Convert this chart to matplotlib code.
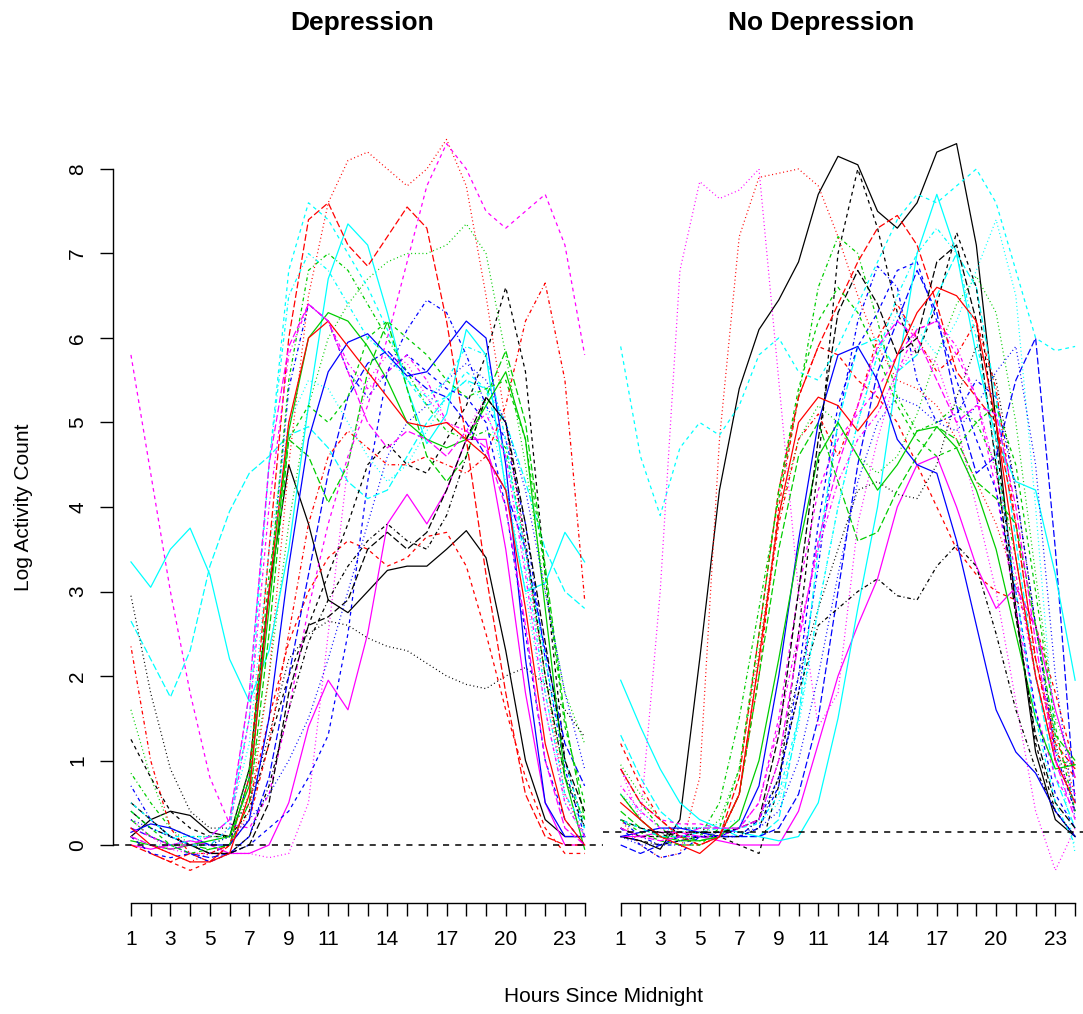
import matplotlib
matplotlib.use('Agg')
import matplotlib.pyplot as plt

plt.rcParams['font.family'] = ['Liberation Sans', 'DejaVu Sans']

## hours on the x axis, only some get a printed label (like R drops overlapping ones)
hours = list(range(1, 25))
shown_labels = [1, 3, 5, 7, 9, 11, 14, 17, 20, 23]
y_ticks = [0, 1, 2, 3, 4, 5, 6, 7, 8]

## smoothed log activity per subject, hours 1..24
## order follows matplot: colour cycles over 6, line type over 5
dep_curves = [
    [0.1, 0.3, 0.4, 0.35, 0.15, 0.1, 0.9, 3.0, 4.5, 3.8, 2.9, 2.75, 3.0, 3.25, 3.3, 3.3, 3.5, 3.72, 3.4, 2.3, 1.0, 0.3, 0.1, 0.1],
    [0.1, -0.1, -0.2, -0.3, -0.2, 0.0, 0.5, 1.5, 2.4, 3.0, 3.4, 3.6, 3.5, 3.3, 3.4, 3.65, 3.7, 3.3, 2.5, 1.6, 0.8, 0.2, -0.1, -0.1],
    [1.6, 0.8, 0.2, 0.0, 0.0, 0.1, 0.6, 2.0, 3.8, 5.2, 6.0, 6.4, 6.7, 6.9, 7.0, 7.0, 7.1, 7.35, 7.0, 5.8, 4.5, 3.0, 1.8, 1.2],
    [0.7, 0.3, 0.1, 0.0, -0.1, 0.0, 0.8, 3.0, 5.4, 6.4, 6.2, 5.6, 5.3, 5.6, 6.1, 6.45, 6.3, 5.8, 5.2, 4.8, 3.8, 2.2, 0.9, 0.1],
    [2.65, 2.2, 1.75, 2.3, 3.3, 3.95, 4.4, 4.6, 4.85, 4.95, 4.7, 4.3, 4.1, 4.2, 4.6, 5.0, 5.3, 5.5, 5.4, 5.0, 4.3, 3.5, 3.0, 2.8],
    [0.0, -0.05, 0.0, 0.05, 0.0, -0.1, -0.1, 0.0, 0.5, 1.4, 1.95, 1.6, 2.5, 3.8, 4.15, 3.8, 4.2, 4.8, 4.8, 3.5, 1.8, 0.5, 0.0, 0.0],
    [1.25, 0.8, 0.4, 0.2, 0.1, 0.1, 0.4, 1.2, 2.0, 2.6, 3.2, 3.8, 4.5, 4.75, 4.5, 4.4, 4.8, 5.2, 5.8, 6.6, 5.6, 3.2, 1.0, 0.2],
    [0.1, 0.0, -0.1, -0.2, -0.1, 0.0, 0.4, 2.0, 4.5, 6.5, 7.6, 8.1, 8.2, 8.0, 7.8, 8.0, 8.35, 7.8, 6.5, 5.0, 3.5, 2.0, 0.6, 0.1],
    [0.85, 0.5, 0.2, 0.1, 0.1, 0.1, 0.9, 3.0, 5.5, 6.8, 7.0, 6.8, 6.4, 6.0, 5.6, 5.2, 4.9, 4.8, 4.9, 4.7, 3.5, 2.0, 0.8, 0.3],
    [0.2, 0.1, 0.0, -0.1, -0.15, -0.1, 0.1, 0.8, 2.0, 3.2, 4.4, 5.3, 5.7, 5.85, 5.6, 5.4, 5.3, 5.0, 4.6, 4.2, 3.5, 2.3, 1.2, 0.7],
    [3.35, 3.05, 3.5, 3.75, 3.2, 2.2, 1.7, 2.3, 3.5, 5.2, 6.7, 7.35, 7.1, 6.3, 5.4, 4.75, 5.1, 6.1, 5.8, 4.2, 3.0, 3.1, 3.7, 3.35],
    [5.8, 4.4, 3.0, 1.8, 0.8, 0.25, 0.2, 0.6, 1.6, 2.8, 3.8, 4.6, 5.2, 6.0, 6.9, 7.8, 8.3, 8.0, 7.5, 7.3, 7.5, 7.7, 7.1, 5.8],
    [2.95, 1.8, 0.9, 0.4, 0.2, 0.2, 0.5, 1.3, 2.2, 2.5, 2.65, 2.6, 2.45, 2.35, 2.3, 2.15, 2.0, 1.9, 1.85, 2.0, 2.1, 1.9, 1.6, 1.28],
    [2.35, 1.0, 0.2, -0.1, -0.1, 0.0, 0.3, 1.2, 2.5, 3.8, 4.6, 4.9, 4.7, 4.5, 4.5, 4.6, 4.5, 4.4, 4.6, 5.2, 6.2, 6.65, 5.5, 2.9],
    [0.3, 0.1, 0.0, 0.0, -0.05, 0.0, 0.5, 2.5, 4.8, 4.6, 4.05, 4.5, 5.6, 6.2, 5.4, 4.6, 4.3, 4.6, 5.3, 5.85, 5.0, 3.3, 1.5, 0.3],
    [0.15, 0.25, 0.2, 0.1, 0.0, 0.0, 0.3, 1.5, 3.3, 4.8, 5.6, 5.95, 6.05, 5.8, 5.55, 5.6, 5.9, 6.2, 6.0, 4.5, 2.2, 0.5, 0.1, 0.1],
    [0.4, 0.2, 0.1, 0.1, 0.1, 0.3, 1.5, 4.5, 6.8, 7.6, 7.4, 7.0, 6.6, 6.1, 5.5, 5.2, 5.3, 5.6, 5.4, 4.6, 3.5, 2.2, 1.0, 0.2],
    [0.3, 0.1, -0.05, -0.1, -0.1, -0.1, -0.1, -0.15, -0.1, 0.5, 2.5, 4.5, 5.5, 5.8, 5.7, 5.3, 5.0, 4.9, 5.3, 5.0, 3.5, 1.8, 0.6, 0.1],
    [0.4, 0.2, 0.1, 0.0, -0.1, -0.1, 0.1, 0.7, 1.6, 2.4, 2.9, 3.3, 3.6, 3.8, 3.6, 3.5, 3.9, 4.6, 5.3, 5.0, 3.6, 2.0, 0.8, 0.2],
    [0.0, -0.1, -0.2, -0.1, -0.2, 0.0, 0.8, 3.5, 6.0, 7.4, 7.6, 7.1, 6.85, 7.2, 7.55, 7.3, 6.2, 4.8, 3.2, 1.8, 0.6, 0.1, 0.0, 0.0],
    [0.05, 0.0, -0.05, 0.0, 0.05, 0.1, 0.7, 2.8, 4.9, 6.0, 6.3, 6.2, 5.9, 5.5, 5.0, 4.8, 4.7, 4.8, 5.2, 5.6, 4.8, 2.8, 0.8, -0.05],
    [0.1, -0.1, -0.15, -0.1, -0.2, -0.1, 0.0, 0.2, 0.4, 0.8, 1.3, 2.5, 4.3, 5.6, 5.8, 5.6, 5.4, 5.3, 5.0, 4.0, 2.5, 1.0, 0.3, 0.0],
    [0.1, 0.0, 0.0, 0.05, 0.1, 0.3, 1.2, 3.5, 5.0, 5.5, 5.4, 5.0, 4.6, 4.3, 4.5, 4.9, 5.3, 5.5, 5.2, 4.3, 3.0, 1.6, 0.5, 0.1],
    [0.2, 0.1, 0.0, 0.0, 0.0, 0.2, 1.5, 4.0, 5.8, 6.4, 6.2, 5.7, 5.4, 5.6, 5.8, 5.5, 5.0, 4.9, 5.1, 4.6, 3.2, 1.6, 0.5, 0.1],
    [0.5, 0.3, 0.1, 0.0, -0.1, -0.1, 0.0, 0.5, 1.8, 2.6, 2.7, 2.9, 3.5, 3.7, 3.5, 3.7, 4.2, 4.8, 5.3, 5.0, 3.8, 2.4, 1.0, 0.4],
    [0.2, 0.0, -0.1, -0.2, -0.2, -0.1, 0.6, 3.0, 5.0, 6.0, 6.2, 5.9, 5.6, 5.3, 5.0, 4.95, 5.0, 4.8, 4.6, 4.2, 2.8, 1.2, 0.3, 0.0],
    [0.4, 0.2, 0.0, -0.1, -0.05, 0.0, 0.8, 3.2, 4.8, 5.2, 5.0, 5.3, 6.0, 6.2, 6.0, 5.8, 5.5, 5.3, 5.4, 5.5, 4.8, 3.2, 1.4, 0.5],
    [0.3, 0.2, 0.1, 0.0, 0.0, 0.1, 0.3, 0.6, 1.0, 1.5, 2.2, 3.0, 3.8, 4.6, 5.0, 5.2, 5.5, 5.7, 5.5, 5.0, 4.2, 3.0, 1.8, 0.9],
    [0.5, 0.3, 0.1, 0.0, 0.0, 0.2, 1.8, 4.5, 6.5, 7.0, 6.8, 6.4, 6.0, 5.8, 5.5, 5.3, 5.5, 5.9, 5.8, 4.8, 3.3, 1.8, 0.6, 0.2],
    [0.1, 0.0, -0.05, 0.0, 0.1, 0.3, 1.8, 4.5, 5.9, 6.4, 6.2, 5.6, 5.0, 4.7, 4.9, 4.8, 4.6, 4.9, 4.7, 4.0, 2.6, 1.0, 0.2, 0.0],
]

nodep_curves = [
    [0.1, 0.05, -0.05, 0.3, 2.2, 4.2, 5.4, 6.1, 6.45, 6.9, 7.7, 8.15, 8.05, 7.5, 7.3, 7.6, 8.2, 8.3, 7.1, 5.0, 2.8, 1.1, 0.3, 0.1],
    [1.2, 0.7, 0.3, 0.1, 0.0, 0.1, 0.6, 2.0, 4.0, 5.3, 5.9, 5.8, 5.5, 5.3, 5.0, 4.5, 4.0, 3.5, 3.2, 3.0, 2.9, 2.6, 1.8, 0.9],
    [0.95, 0.6, 0.3, 0.1, 0.1, 0.3, 0.9, 2.3, 3.9, 4.8, 5.2, 5.0, 4.6, 4.4, 4.6, 5.1, 5.8, 6.4, 6.73, 6.3, 5.0, 3.2, 1.5, 0.9],
    [0.3, 0.1, 0.0, 0.0, 0.1, 0.1, 0.1, 0.3, 0.8, 1.8, 3.3, 5.0, 6.2, 6.85, 6.6, 5.5, 5.0, 5.1, 5.5, 5.3, 4.2, 2.6, 1.1, 0.4],
    [1.3, 0.8, 0.4, 0.2, 0.2, 0.2, 0.1, 0.1, 0.3, 1.5, 3.5, 5.0, 5.9, 6.0, 5.6, 5.8, 6.5, 7.0, 6.6, 5.3, 3.6, 2.0, 0.8, 0.2],
    [0.1, 0.1, 0.15, 0.15, 0.1, 0.05, 0.0, 0.0, 0.0, 0.4, 1.2, 2.0, 2.6, 3.15, 4.0, 4.5, 4.6, 4.0, 3.3, 2.8, 3.05, 2.6, 1.6, 0.8],
    [0.2, 0.1, 0.1, 0.15, 0.15, 0.1, 0.0, -0.1, 0.7, 2.5, 4.5, 7.0, 8.0, 7.3, 6.3, 5.8, 6.4, 7.25, 6.6, 4.8, 2.8, 1.2, 0.4, 0.1],
    [0.3, 0.0, -0.15, -0.1, 0.8, 4.8, 7.2, 7.9, 7.95, 8.0, 7.8, 7.2, 6.5, 5.9, 5.5, 5.4, 5.2, 4.8, 4.3, 3.8, 3.1, 2.2, 1.3, 0.6],
    [0.9, 0.5, 0.2, 0.05, 0.1, 0.5, 1.5, 2.8, 4.1, 5.3, 6.6, 7.2, 7.0, 6.2, 5.3, 4.9, 5.0, 5.2, 5.0, 4.5, 3.4, 2.0, 1.0, 0.95],
    [0.0, -0.1, 0.0, 0.1, 0.1, 0.1, 0.1, 0.1, 0.2, 0.6, 1.5, 3.0, 4.5, 5.6, 6.2, 6.8, 6.3, 5.2, 4.4, 4.6, 5.5, 6.0, 3.5, 0.5],
    [1.95, 1.4, 0.9, 0.5, 0.3, 0.2, 0.15, 0.1, 0.05, 0.1, 0.5, 1.5, 2.8, 4.0, 5.6, 7.0, 7.7, 7.0, 5.8, 4.8, 4.3, 4.2, 3.2, 1.95],
    [0.9, 0.5, 0.3, 0.25, 0.25, 0.2, 0.2, 0.5, 1.5, 3.0, 4.2, 4.8, 5.1, 5.4, 5.8, 6.1, 6.2, 5.8, 5.3, 4.2, 2.8, 1.6, 0.8, 0.4],
    [0.2, 0.1, 0.1, 0.2, 0.2, 0.1, 0.1, 0.3, 1.0, 2.0, 2.8, 3.5, 4.2, 4.3, 4.15, 4.1, 4.5, 5.3, 5.9, 5.5, 4.2, 2.6, 1.2, 0.4],
    [0.6, 0.3, 0.1, 0.0, 0.0, 0.1, 0.6, 2.2, 3.8, 4.8, 5.1, 4.6, 5.2, 6.0, 6.4, 6.0, 5.6, 5.8, 6.2, 5.4, 3.8, 2.2, 1.1, 0.8],
    [0.4, 0.2, 0.1, 0.1, 0.05, 0.1, 0.6, 2.0, 3.5, 4.6, 5.0, 4.3, 3.6, 3.7, 4.2, 4.6, 4.95, 4.8, 4.3, 4.1, 3.8, 2.6, 1.3, 1.0],
    [0.1, 0.15, 0.2, 0.2, 0.15, 0.1, 0.2, 0.7, 2.0, 3.6, 5.0, 5.8, 5.9, 5.5, 4.8, 4.5, 4.4, 3.6, 2.6, 1.6, 1.1, 0.85, 0.4, 0.1],
    [5.9, 4.6, 3.9, 4.7, 5.0, 4.85, 5.2, 5.8, 6.0, 5.6, 5.5, 5.9, 6.4, 6.9, 7.4, 7.7, 7.6, 7.8, 8.0, 7.6, 6.8, 6.0, 5.85, 5.9],
    [0.9, 0.3, 3.0, 6.8, 7.85, 7.65, 7.75, 8.0, 5.5, 3.0, 1.4, 1.8, 3.8, 4.8, 5.6, 5.9, 5.7, 5.0, 4.0, 3.0, 1.7, 0.4, -0.3, 0.2],
    [0.1, 0.05, 0.0, 0.05, 0.1, 0.1, 0.1, 0.2, 0.8, 1.8, 2.6, 2.8, 3.0, 3.15, 2.95, 2.9, 3.3, 3.55, 3.3, 2.5, 1.6, 0.9, 0.4, 0.1],
    [0.9, 0.5, 0.3, 0.1, 0.0, 0.1, 0.8, 2.5, 4.2, 5.3, 5.9, 6.4, 6.9, 7.3, 7.45, 7.1, 6.4, 5.6, 5.3, 5.0, 3.8, 2.2, 1.2, 0.9],
    [0.6, 0.3, 0.1, 0.05, 0.05, 0.1, 0.3, 1.0, 2.2, 3.5, 4.6, 5.0, 4.6, 4.2, 4.5, 4.9, 4.95, 4.7, 4.2, 3.5, 2.5, 1.5, 0.9, 0.95],
    [0.2, 0.0, -0.15, -0.1, 0.1, 0.1, 0.1, 0.2, 0.7, 2.0, 3.8, 5.2, 5.9, 6.3, 6.8, 6.9, 6.2, 5.5, 4.8, 4.2, 3.0, 1.6, 0.6, 0.2],
    [0.6, 0.4, 0.2, 0.15, 0.2, 0.25, 0.3, 0.25, 0.5, 1.4, 2.8, 4.0, 5.0, 5.8, 6.3, 6.1, 5.8, 6.2, 6.8, 7.4, 6.5, 4.0, 1.2, -0.1],
    [0.7, 0.4, 0.2, 0.1, 0.1, 0.1, 0.2, 0.5, 1.4, 2.5, 3.5, 4.3, 4.8, 5.1, 5.6, 6.1, 6.2, 5.9, 5.3, 4.4, 3.2, 2.0, 1.0, 0.6],
    [0.3, 0.2, 0.15, 0.1, 0.15, 0.15, 0.2, 0.3, 1.3, 3.0, 4.8, 6.3, 6.8, 6.4, 5.8, 6.0, 6.9, 7.1, 6.2, 4.5, 2.7, 1.3, 0.5, 0.2],
    [0.5, 0.3, 0.1, 0.0, -0.1, 0.1, 0.6, 2.2, 3.9, 5.0, 5.3, 5.2, 4.9, 5.2, 5.8, 6.3, 6.6, 6.5, 6.2, 5.0, 3.4, 2.0, 1.0, 0.5],
    [0.3, 0.15, 0.05, 0.0, 0.0, 0.2, 0.9, 2.5, 4.2, 5.4, 6.2, 6.6, 6.3, 5.8, 5.2, 4.8, 4.6, 4.7, 5.0, 5.2, 4.5, 3.0, 1.4, 0.4],
    [0.1, 0.0, 0.0, 0.05, 0.1, 0.15, 0.15, 0.2, 0.4, 1.0, 2.0, 3.2, 4.3, 5.0, 5.3, 5.2, 5.0, 4.9, 5.2, 5.6, 5.9, 4.5, 2.0, 0.3],
    [0.3, 0.2, 0.1, 0.1, 0.15, 0.2, 0.2, 0.25, 0.6, 1.5, 2.8, 4.0, 5.0, 5.8, 6.5, 7.0, 7.3, 7.0, 6.0, 4.6, 3.0, 1.5, 0.5, 0.0],
    [0.2, 0.1, 0.05, 0.1, 0.2, 0.2, 0.2, 0.3, 1.0, 2.4, 3.6, 4.5, 5.2, 5.9, 6.2, 6.0, 5.5, 5.0, 5.2, 5.1, 4.0, 2.4, 1.0, 0.3],
]

## horizontal reference line of each group
dep_ref = 0.0
nodep_ref = 0.15

# R matplot defaults
r_cols = ['#000000', '#FF0000', '#00CD00', '#0000FF', '#00FFFF', '#FF00FF']
r_ltys = ['-', (0, (3, 3)), (0, (0.8, 2.2)), (0, (0.8, 2.2, 3, 2.2)), (0, (5.5, 2.2))]

fig = plt.figure(figsize=(10.83, 10.14), dpi=100)
W, H = 1083.0, 1014.0
bottom = 1 - 929.5 / H
height = 845.0 / H
ax1 = fig.add_axes([112.8 / W, bottom, 490.0 / W, height])
ax2 = fig.add_axes([602.5 / W, bottom, 490.8 / W, height])

xlabels = [str(h) if h in shown_labels else '' for h in hours]

for ax, curves, ref in [(ax1, dep_curves, dep_ref), (ax2, nodep_curves, nodep_ref)]:
    ax.patch.set_visible(False)
    for k, c in enumerate(curves):
        ax.plot(hours, c, color=r_cols[k % 6], linestyle=r_ltys[k % 5], lw=0.9)
    ax.axhline(ref, color='black', linestyle=(0, (4, 4)), lw=1.1)
    ax.set_xlim(0.08, 24.92)
    ax.set_ylim(-1, 9)
    ax.spines['top'].set_visible(False)
    ax.spines['right'].set_visible(False)
    ax.spines['bottom'].set_position(('data', -0.686))
    ax.spines['bottom'].set_bounds(1, 24)
    ax.spines['bottom'].set_linewidth(1.0)
    ax.set_xticks(hours)
    ax.set_xticklabels(xlabels, fontsize=15)
    ax.tick_params(axis='x', length=9.5, width=1.0, pad=10)

ax1.spines['left'].set_bounds(0, 8)
ax1.spines['left'].set_linewidth(1.0)
ax1.set_yticks(y_ticks)
ax1.set_yticklabels([str(v) for v in y_ticks], fontsize=15, rotation=90, va='center')
ax1.tick_params(axis='y', length=9.5, width=1.0, pad=9)

ax2.spines['left'].set_visible(False)
ax2.set_yticks([])

fig.text(362 / W, 1 - 23 / H, 'Depression', ha='center', va='center', fontsize=19, fontweight='bold')
fig.text(821 / W, 1 - 23 / H, 'No Depression', ha='center', va='center', fontsize=19, fontweight='bold')
fig.text(603 / W, 1 - 996 / H, 'Hours Since Midnight', ha='center', va='center', fontsize=15)
fig.text(24 / W, 1 - 507 / H, 'Log Activity Count', ha='center', va='center', fontsize=15, rotation=90)

fig.savefig('out.png', dpi=100, facecolor='white')
